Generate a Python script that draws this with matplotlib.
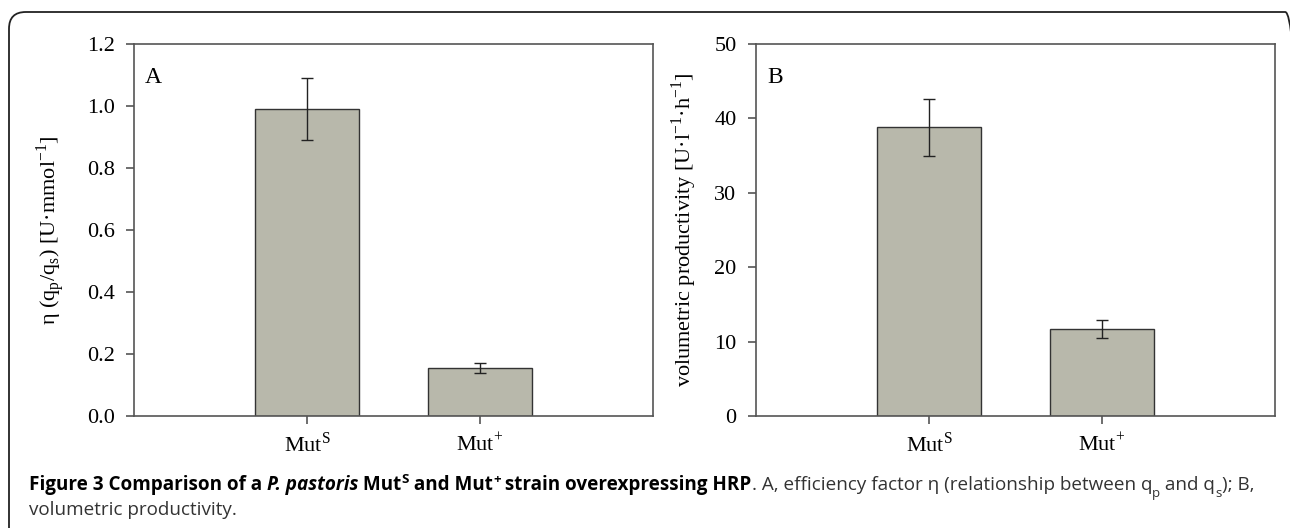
import matplotlib
matplotlib.use("Agg")
import matplotlib.pyplot as plt
from matplotlib.patches import FancyBboxPatch

# data
strains = ["Mut$^\\mathregular{S}$", "Mut$^\\mathregular{+}$"]
eta_mean = [0.99, 0.155]
eta_err = [0.10, 0.016]
prod_mean = [38.8, 11.7]
prod_err = [3.85, 1.2]

bar_color = "#b8b8ab"
edge_color = "#333333"
spine_color = "#555555"

plt.rcParams["font.family"] = "Liberation Serif"
plt.rcParams["mathtext.fontset"] = "custom"
plt.rcParams["mathtext.rm"] = "Liberation Serif"

W, H = 1290, 528
fig = plt.figure(figsize=(W / 100, H / 100), dpi=100)

# outer rounded frame (right and bottom run off the page)
frame = FancyBboxPatch((9 / W, -0.1), (1302 - 9) / W, 1.1 - 12 / H,
                       boxstyle="round,pad=0,rounding_size=0.013",
                       transform=fig.transFigure, fill=False,
                       edgecolor="#222222", linewidth=1.3, clip_on=False,
                       mutation_aspect=W / H)
fig.patches.append(frame)


def make_panel(left, means, errs, ylim, yticks, fmt, ylabel, letter, label_x):
    ax = fig.add_axes([left / W, 1 - 416 / H, 519 / W, 372 / H])
    x = [0, 1]
    ax.bar(x, means, width=0.6, color=bar_color, edgecolor=edge_color,
           linewidth=1.0, zorder=2)
    ax.errorbar(x, means, yerr=errs, fmt="none", ecolor="#222222",
                elinewidth=1.0, capsize=4.5, capthick=1.0, zorder=3)
    ax.set_xlim(-1, 2)
    ax.set_ylim(*ylim)
    ax.set_yticks(yticks)
    ax.set_yticklabels([fmt.format(v) for v in yticks])
    ax.set_xticks(x)
    ax.set_xticklabels(strains)
    for s in ax.spines.values():
        s.set_color(spine_color)
        s.set_linewidth(1.2)
    ax.tick_params(axis="y", direction="out", length=6, width=1.2,
                   color=spine_color, labelsize=16, pad=8)
    ax.tick_params(axis="x", direction="out", length=6, width=1.2,
                   color=spine_color, labelsize=16, pad=6)
    ax.set_ylabel(ylabel, fontsize=16)
    ax.yaxis.set_label_coords(label_x, 0.5)
    ax.text(0.021, 0.91, letter, transform=ax.transAxes, fontsize=17,
            va="center", ha="left")
    return ax


make_panel(134, eta_mean, eta_err, (0, 1.2), [0, 0.2, 0.4, 0.6, 0.8, 1.0, 1.2],
           "{:.1f}", "η (q$_\\mathregular{p}$/q$_\\mathregular{s}$) [U·mmol$^\\mathregular{-1}$]",
           "A", -0.13)
make_panel(756, prod_mean, prod_err, (0, 50), [0, 10, 20, 30, 40, 50],
           "{:.0f}", "volumetric productivity [U·l$^\\mathregular{-1}$·h$^\\mathregular{-1}$]",
           "B", -0.11)

# caption, drawn piece by piece
cap_family = ["Open Sans", "DejaVu Sans"]
cap_size = 13.6
bold_c = "#000000"
norm_c = "#333333"

line1 = [
    ("Figure 3 Comparison of a ", "bold", "normal", 0),
    ("P. pastoris", "bold", "italic", 0),
    (" Mut", "bold", "normal", 0),
    ("S", "bold", "normal", 1),
    (" and Mut", "bold", "normal", 0),
    ("+", "bold", "normal", 1),
    (" strain overexpressing HRP", "bold", "normal", 0),
    (". A, efficiency factor η (relationship between q", "normal", "normal", 0),
    ("p", "normal", "normal", -1),
    (" and q", "normal", "normal", 0),
    ("s", "normal", "normal", -1),
    ("); B,", "normal", "normal", 0),
]

renderer = fig.canvas.get_renderer()
x = 29
y = H - 490
for txt, weight, style, shift in line1:
    size = cap_size if shift == 0 else cap_size * 0.7
    yy = y + shift * 7
    t = fig.text(x / W, yy / H, txt, fontsize=size, fontweight=weight,
                 fontstyle=style, family=cap_family, ha="left", va="baseline",
                 color=bold_c if weight == "bold" else norm_c)
    x += t.get_window_extent(renderer).width
fig.text(29 / W, (H - 515) / H, "volumetric productivity.", fontsize=cap_size,
         family=cap_family, ha="left", va="baseline", color=norm_c)

fig.savefig("out.png", dpi=100)
